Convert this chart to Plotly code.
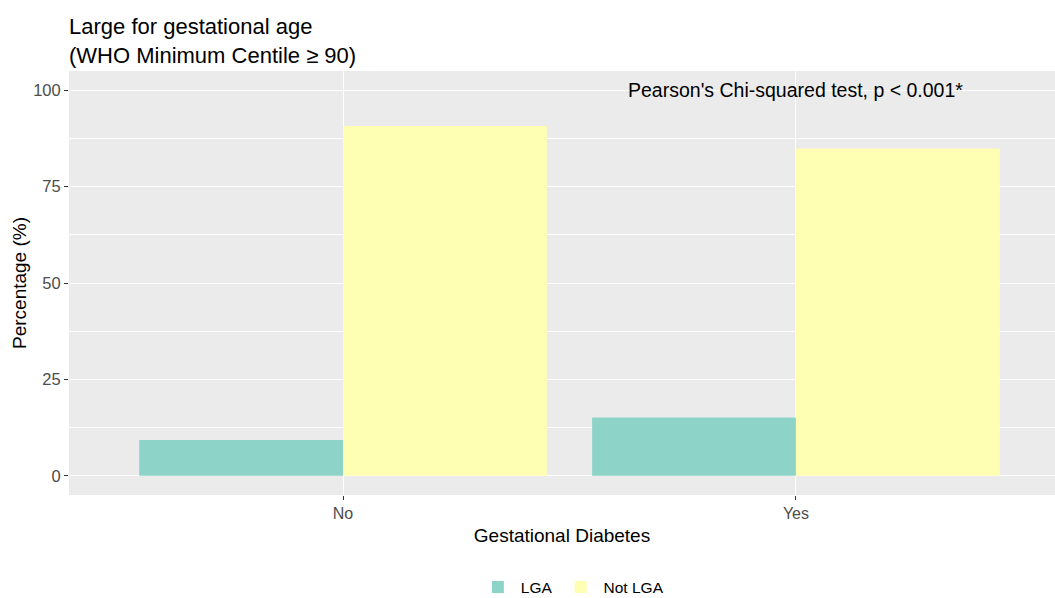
import plotly.graph_objects as go

# Share of births by gestational diabetes status
diabetes_status = ["No", "Yes"]
lga_pct = [9.3, 15.1]
not_lga_pct = [90.7, 84.9]
series_names = ["LGA", "Not LGA"]
series_colors = ["#8DD3C7", "#FFFFB3"]
y_ticks = [0, 25, 50, 75, 100]

fig = go.Figure()
for name, values, color in zip(series_names, [lga_pct, not_lga_pct], series_colors):
    fig.add_trace(go.Bar(
        x=diabetes_status, y=values, name=name,
        marker=dict(color=color, line=dict(width=0)),
    ))

font_family = "Liberation Sans, Arial, sans-serif"

fig.update_layout(
    width=1055, height=598,
    barmode="group", bargap=0.1, bargroupgap=0,
    plot_bgcolor="#EBEBEB", paper_bgcolor="white",
    margin=dict(l=69, r=0, t=71, b=103, autoexpand=False),
    font=dict(family=font_family, color="black"),
    title=dict(
        text="Large for gestational age<br>(WHO Minimum Centile ≥ 90)",
        x=69 / 1055, xanchor="left", xref="container",
        y=1 - 34 / 598, yanchor="top", yref="container",
        font=dict(size=22, color="black", family=font_family),
    ),
    legend=dict(
        orientation="h", x=0.51, xanchor="center",
        y=-0.218, yanchor="middle",
        font=dict(size=15.5, color="black"),
        traceorder="normal", itemwidth=36,
    ),
)

fig.update_xaxes(
    type="category",
    range=[-0.605, 1.572],
    showgrid=True, gridcolor="white", gridwidth=1.4,
    ticks="outside", ticklen=4, tickcolor="#333333", tickwidth=1,
    tickfont=dict(size=16, color="#4D4D4D"),
    title=dict(text="Gestational Diabetes", font=dict(size=19, color="black"), standoff=7),
    zeroline=False, showline=False,
)
fig.update_yaxes(
    range=[-5, 105],
    tickvals=y_ticks, ticktext=[str(v) for v in y_ticks],
    showgrid=True, gridcolor="white", gridwidth=1.4,
    minor=dict(tickvals=[12.5, 37.5, 62.5, 87.5], showgrid=True, gridcolor="white", gridwidth=0.7, ticks=""),
    ticks="outside", ticklen=4, tickcolor="#333333", tickwidth=1,
    tickfont=dict(size=16.5, color="#4D4D4D"),
    title=dict(text="Percentage (%)", font=dict(size=19, color="black"), standoff=1),
    zeroline=False, showline=False,
)

fig.add_annotation(
    x=diabetes_status[1], y=100, xref="x", yref="y",
    text="Pearson's Chi-squared test, p < 0.001*",
    showarrow=False, xanchor="center", yanchor="middle",
    font=dict(size=19.5, color="black", family=font_family),
)

fig.write_html("out.html")
